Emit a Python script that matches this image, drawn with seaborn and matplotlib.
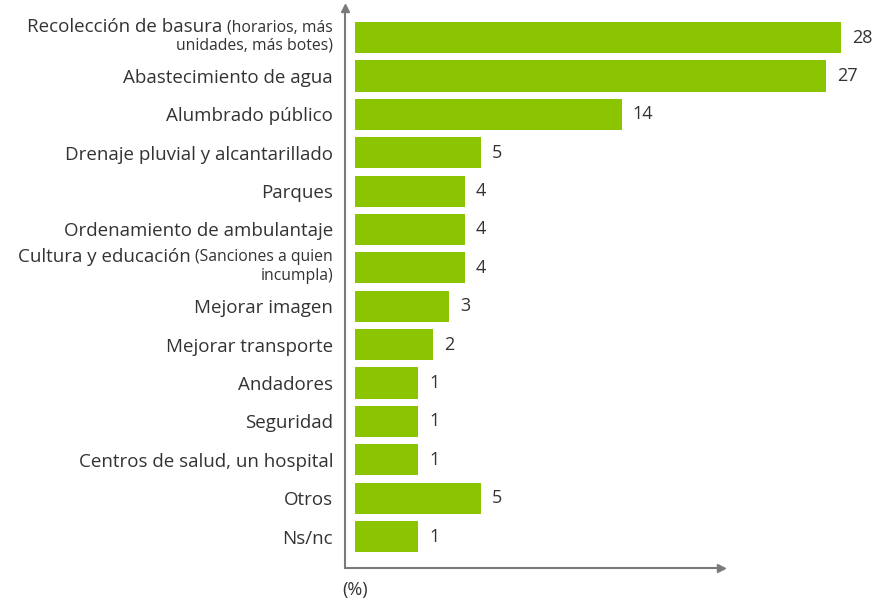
import numpy as np
import pandas as pd
import matplotlib
matplotlib.use("Agg")
import matplotlib.pyplot as plt
from matplotlib.ticker import NullLocator
import seaborn as sns

# data
categories = [
    "Recolección de basura", "Abastecimiento de agua", "Alumbrado público",
    "Drenaje pluvial y alcantarillado", "Parques", "Ordenamiento de ambulantaje",
    "Cultura y educación", "Mejorar imagen", "Mejorar transporte", "Andadores",
    "Seguridad", "Centros de salud, un hospital", "Otros", "Ns/nc",
]
values = [28, 27, 14, 5, 4, 4, 4, 3, 2, 1, 1, 1, 5, 1]
notes = {
    0: ["(horarios, más", "unidades, más botes)"],
    6: ["(Sanciones a quien", "incumpla)"],
}
axis_label = "(%)"

GREEN = "#8bc400"
TEXT = "#333333"
AXIS = "#7a7a7a"

sns.set_theme(style="white")
plt.rcParams["font.family"] = ["Open Sans", "DejaVu Sans"]

df = pd.DataFrame({"cat": categories, "val": values})

fig = plt.figure(figsize=(8.79, 6), dpi=100)
ax = fig.add_axes([0.3925, 0.0533, 0.6075, 0.9333])

sns.barplot(data=df, y="cat", x="val", orient="h", color=GREEN,
            saturation=1, width=0.81, linewidth=0, ax=ax)


# the original chart gives every bar a fixed minimum length before the value part
def fwd(x):
    x = np.asarray(x, dtype=float)
    return np.where(x < 1, 4 * x, x + 3)


def inv(y):
    y = np.asarray(y, dtype=float)
    return np.where(y < 4, y / 4, y - 3)


ax.set_xscale("function", functions=(fwd, inv))
ax.set_xlim(-0.16, 30.4)
ax.set_ylim(len(categories) - 1 + 0.82, -0.77)
ax.set_xticks([])
ax.xaxis.set_minor_locator(NullLocator())
ax.set_xlabel("")
ax.set_ylabel("")

labels = ["" if i in notes else c for i, c in enumerate(categories)]
ax.set_yticks(range(len(categories)))
ax.set_yticklabels(labels)
ax.tick_params(axis="y", length=0, pad=8.6, labelsize=13.5, labelcolor=TEXT)

# labels that mix a large main part with a smaller note
for i, (l1, l2) in notes.items():
    t1 = ax.annotate(l1, xy=(0, i), xycoords=("axes fraction", "data"),
                     xytext=(-8.6, 7.5), textcoords="offset points",
                     ha="right", va="center", fontsize=11.3, color=TEXT)
    ax.annotate(l2, xy=(0, i), xycoords=("axes fraction", "data"),
                xytext=(-8.6, -5.5), textcoords="offset points",
                ha="right", va="center", fontsize=11.3, color=TEXT)
    ax.annotate(categories[i], xy=(0, i), xycoords=(t1, "data"),
                xytext=(-3.5, 7.8), textcoords="offset points",
                ha="right", va="center", fontsize=13.5, color=TEXT)

ax.bar_label(ax.containers[0], labels=[str(v) for v in values],
             padding=8, fontsize=13, color=TEXT)

# axes with arrow heads
sns.despine(ax=ax)
x_end = 20.3
for side in ["left", "bottom"]:
    ax.spines[side].set_color(AXIS)
    ax.spines[side].set_linewidth(1.5)
ax.spines["bottom"].set_bounds(-0.16, x_end)
ax.plot(0, 1, marker="^", color=AXIS, markersize=6,
        transform=ax.transAxes, clip_on=False)
ax.plot(x_end, 0, marker=">", color=AXIS, markersize=6,
        transform=ax.get_xaxis_transform(), clip_on=False)

ax.annotate(axis_label, xy=(0, 0), xycoords="axes fraction",
            xytext=(-2, -9), textcoords="offset points",
            ha="left", va="top", fontsize=13, color=TEXT)

fig.savefig("out.png", dpi=100, facecolor="white")
